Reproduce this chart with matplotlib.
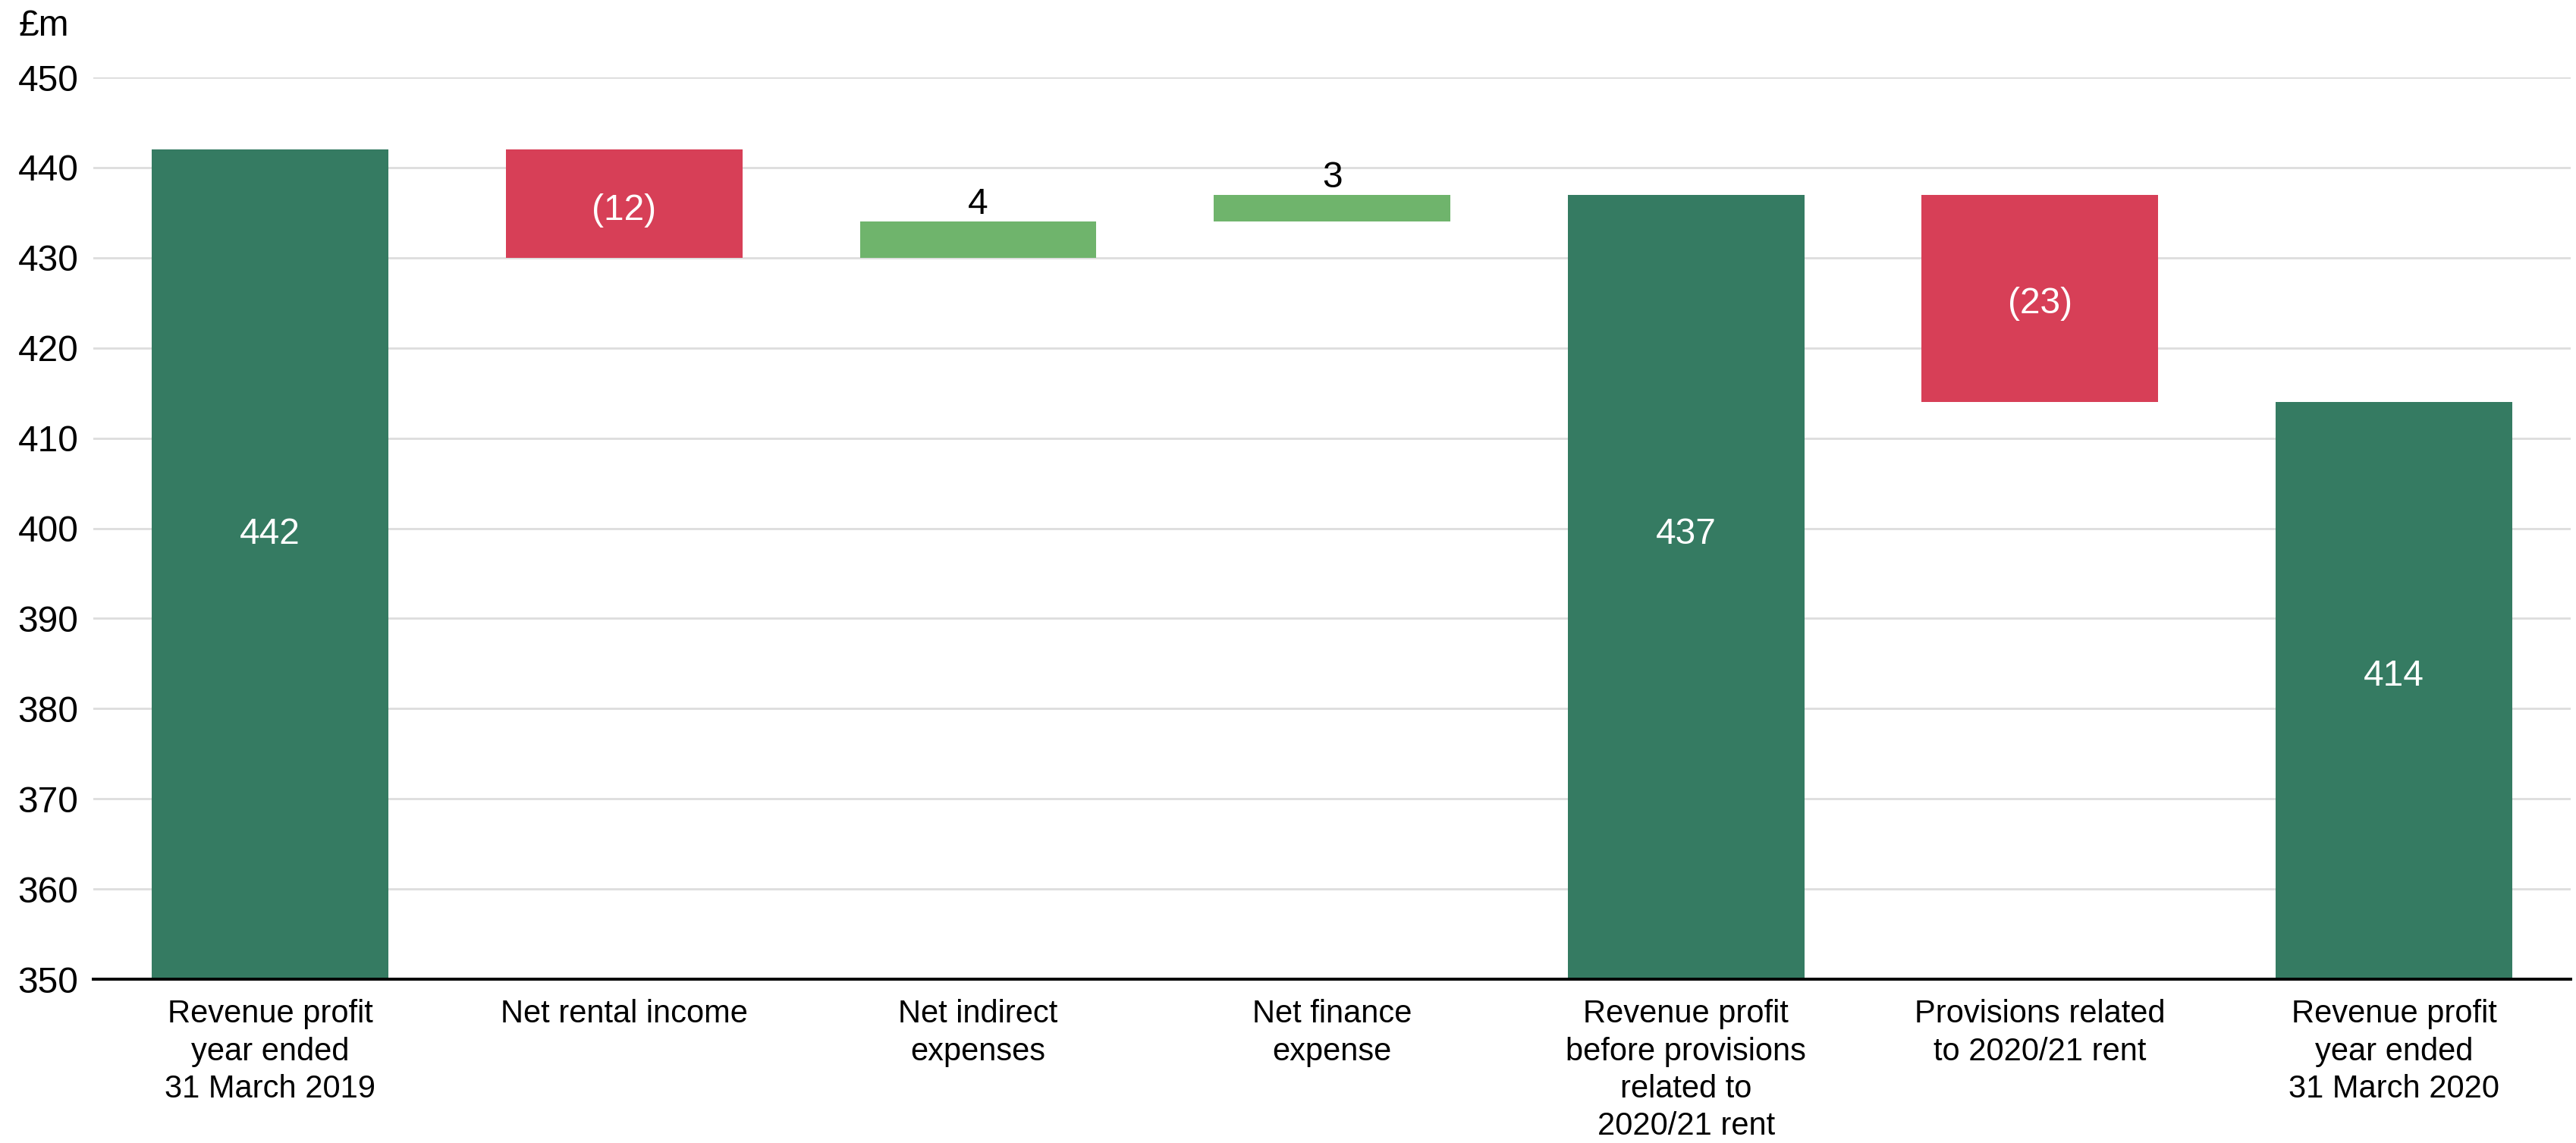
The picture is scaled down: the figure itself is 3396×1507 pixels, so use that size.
import numpy as np
import matplotlib.pyplot as plt

plt.rcParams['font.family'] = ['Liberation Sans', 'DejaVu Sans']

# waterfall data (£m)
categories = ['Revenue profit\nyear ended\n31 March 2019',
              'Net rental income',
              'Net indirect\nexpenses',
              'Net finance\nexpense',
              'Revenue profit\nbefore provisions\nrelated to\n2020/21 rent',
              'Provisions related\nto 2020/21 rent',
              'Revenue profit\nyear ended\n31 March 2020']
changes = [442, -12, 4, 3, 437, -23, 414]
is_total = [True, False, False, False, True, False, True]
labels = ['442', '(12)', '4', '3', '437', '(23)', '414']

dark_green = '#357B62'
red = '#D73F57'
light_green = '#6FB46C'
y_min = 350

bottoms, heights, colors = [], [], []
running = 0
for ch, tot in zip(changes, is_total):
    if tot:
        running = ch
        bottoms.append(y_min)
        heights.append(ch - y_min)
        colors.append(dark_green)
    else:
        if ch < 0:
            bottoms.append(running + ch)
            colors.append(red)
        else:
            bottoms.append(running)
            colors.append(light_green)
        heights.append(abs(ch))
        running += ch

fig = plt.figure(figsize=(33.96, 15.07), dpi=100)
ax = fig.add_axes([0.0362, 0.1433, 0.9618, 0.789])

x = np.arange(len(categories))
ax.bar(x, heights, bottom=bottoms, width=0.668, color=colors, zorder=2)

# where the white labels sit inside the bars (as in the original)
inside_y = {0: 399.3, 1: 435.2, 4: 399.3, 5: 424.9, 6: 383.6}
for i in range(len(x)):
    top = bottoms[i] + heights[i]
    if i in inside_y:
        ax.text(x[i], inside_y[i], labels[i], ha='center', va='center',
                color='white', fontsize=34.5, zorder=3)
    else:
        ax.annotate(labels[i], (x[i], top), xytext=(0, 0), textcoords='offset points',
                    ha='center', va='bottom', color='black', fontsize=34.5, zorder=3)

ax.set_xlim(-0.5, len(x) - 0.5)
ax.set_ylim(350, 450)
ax.set_yticks(np.arange(350, 451, 10))
ax.set_xticks(x)
ax.set_xticklabels(categories, fontsize=30, linespacing=1.3)
ax.tick_params(axis='y', length=0, pad=14, labelsize=34.5)
ax.tick_params(axis='x', length=0, pad=19)
ax.grid(axis='y', color='#dddddd', linewidth=2, zorder=0)
for s in ['top', 'right', 'left']:
    ax.spines[s].set_visible(False)
ax.spines['bottom'].set_linewidth(2.8)
ax.spines['bottom'].set_color('black')
ax.spines['bottom'].set_zorder(4)

fig.text(25 / 3396, 1 - 12 / 1507, '£m', ha='left', va='top', fontsize=34.5)

fig.savefig('out.png', dpi=100)
